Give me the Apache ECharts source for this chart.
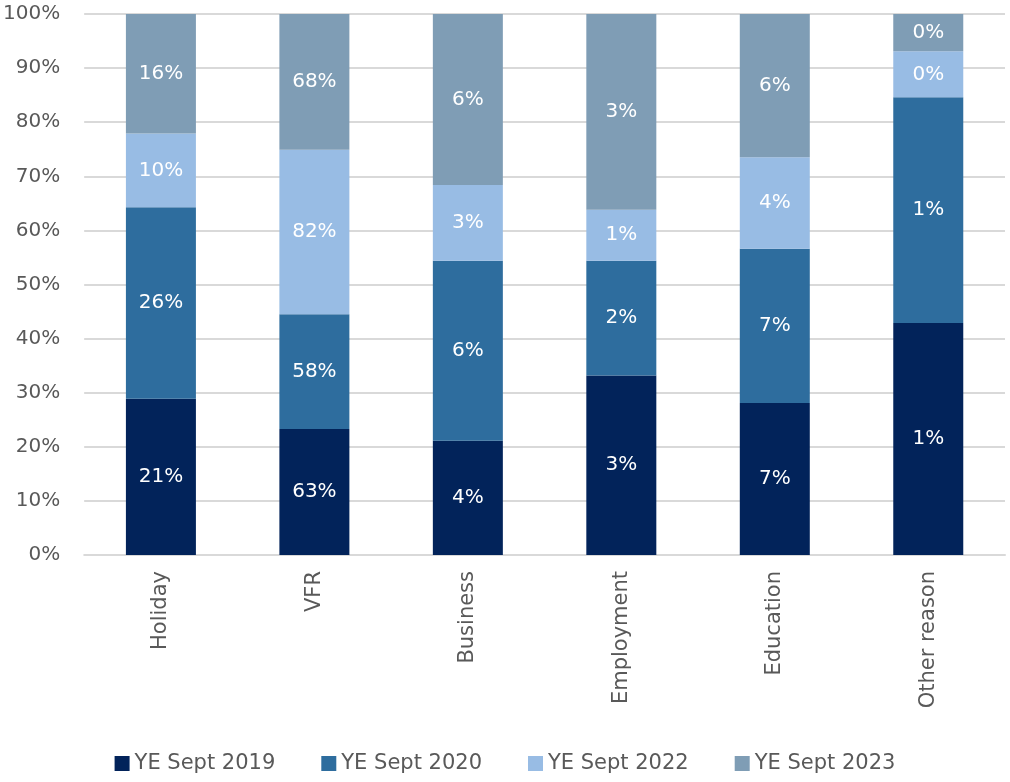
<!DOCTYPE html>
<html>
<head>
<meta charset="utf-8">
<script src="https://cdn.jsdelivr.net/npm/echarts@6/dist/echarts.min.js"></script>
<style>
  html, body { margin: 0; padding: 0; background: #fff; }
  #chart { width: 1010px; height: 782px; }
</style>
</head>
<body>
<div id="chart"></div>
<script>
const categories = ["Holiday", "VFR", "Business", "Employment", "Education", "Other reason"];
const seriesNames = ["YE Sept 2019", "YE Sept 2020", "YE Sept 2022", "YE Sept 2023"];
const colors = ["#02235a", "#2e6d9e", "#98bce4", "#7f9db5"];

// segment shares of each bar (%)
const share2019 = [28.9, 23.3, 21.1, 33.2, 28.1, 42.9];
const share2020 = [35.4, 21.2, 33.3, 21.2, 28.5, 41.7];
const share2022 = [13.6, 30.4, 14.0, 9.4, 16.9, 8.5];
const share2023 = [22.1, 25.1, 31.6, 36.2, 26.5, 6.9];

// values printed on the segments
const label2019 = [21, 63, 4, 3, 7, 1];
const label2020 = [26, 58, 6, 2, 7, 1];
const label2022 = [10, 82, 3, 1, 4, 0];
const label2023 = [16, 68, 6, 3, 6, 0];

const yTicks = [0, 10, 20, 30, 40, 50, 60, 70, 80, 90, 100];

const shares = [share2019, share2020, share2022, share2023];
const labels = [label2019, label2020, label2022, label2023];
const font = "DejaVu Sans";

const chart = echarts.init(document.getElementById("chart"));
chart.setOption({
  animation: false,
  grid: { left: 81, right: 5, top: 14, bottom: 227, containLabel: false },
  legend: {
    bottom: 3,
    left: "center",
    itemWidth: 15,
    itemHeight: 15,
    itemGap: 46,
    icon: "rect",
    textStyle: { fontFamily: font, fontSize: 21, color: "#595959" },
    data: seriesNames
  },
  xAxis: {
    type: "category",
    data: categories,
    axisLine: { lineStyle: { color: "#d9d9d9", width: 2 } },
    axisTick: { show: false },
    axisLabel: { rotate: 90, margin: 16, fontFamily: font, fontSize: 21, color: "#595959" }
  },
  yAxis: {
    type: "value",
    min: yTicks[0],
    max: yTicks[yTicks.length - 1],
    interval: 10,
    axisLine: { show: false },
    axisTick: { show: false },
    splitLine: { lineStyle: { color: "#d9d9d9", width: 2 } },
    axisLabel: { formatter: "{value}%", margin: 24, fontFamily: font, fontSize: 20, color: "#595959" }
  },
  series: seriesNames.map((name, i) => ({
    name: name,
    type: "bar",
    stack: "total",
    barWidth: 70,
    itemStyle: { color: colors[i] },
    label: {
      show: true,
      position: "inside",
      color: "#fff",
      fontFamily: font,
      fontSize: 20,
      formatter: (p) => labels[i][p.dataIndex] + "%"
    },
    data: shares[i]
  }))
});
</script>
</body>
</html>
